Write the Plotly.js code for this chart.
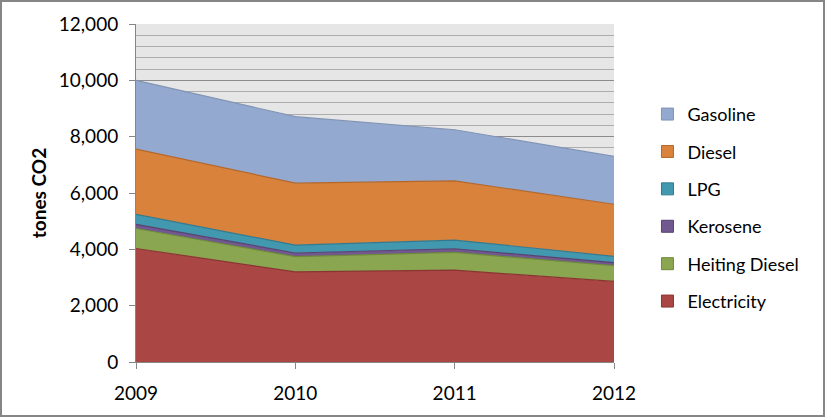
<!DOCTYPE html>
<html>
<head>
<meta charset="utf-8">
<script src="https://cdn.plot.ly/plotly-3.0.1.min.js"></script>
<style>
  html, body { margin: 0; padding: 0; background: #fff; }
  #wrap { position: relative; width: 825px; height: 417px; }
  #chart { position: absolute; left: 0; top: 0; width: 825px; height: 417px; }
  #frame { position: absolute; left: 0; top: 0; width: 825px; height: 417px; box-sizing: border-box; border: 2px solid #868686; pointer-events: none; }
</style>
</head>
<body>
<div id="wrap"><div id="chart"></div><div id="frame"></div></div>
<script>
// ---- data ----
const years = [2009, 2010, 2011, 2012];
const electricity   = [4030, 3200, 3260, 2860];
const heatingDiesel = [710, 540, 630, 560];
const kerosene      = [150, 130, 130, 110];
const lpg           = [350, 280, 310, 220];
const diesel        = [2320, 2200, 2100, 1850];
const gasoline      = [2440, 2360, 1815, 1700];
const seriesNames   = ["Electricity", "Heiting Diesel", "Kerosene", "LPG", "Diesel", "Gasoline"];
const yTickVals     = [0, 2000, 4000, 6000, 8000, 10000, 12000];

// ---- styling ----
const fills = ["#AA4643", "#8BA650", "#71588F", "#4198AF", "#D9823C", "#93A9CF"];
const edges = ["#8A3533", "#6E8A3A", "#574270", "#337A8E", "#B5672A", "#8294B5"];
const seriesValues = [electricity, heatingDiesel, kerosene, lpg, diesel, gasoline];

const traces = [];
seriesValues.forEach((vals, i) => {
  traces.push({
    type: "scatter", mode: "lines", x: years, y: vals,
    stackgroup: "one", name: seriesNames[i],
    fillcolor: fills[i], line: {color: edges[i], width: 1.2},
    showlegend: false, hoverinfo: "skip"
  });
});
// legend entries (squares), Gasoline first
for (let i = seriesNames.length - 1; i >= 0; i--) {
  traces.push({
    type: "scatter", mode: "markers", x: [null], y: [null],
    name: seriesNames[i], legendgroup: "g" + i,
    marker: {symbol: "square", size: 12, color: fills[i], line: {color: edges[i], width: 1}},
    hoverinfo: "skip"
  });
}

const font = "Lato, 'Open Sans', sans-serif";
const layout = {
  width: 825, height: 417,
  margin: {l: 136, r: 211, t: 24, b: 55, pad: 0, autoexpand: false},
  paper_bgcolor: "#ffffff",
  plot_bgcolor: "#E6E6E6",
  font: {family: font, size: 18, color: "#000"},
  showlegend: true,
  legend: {
    x: 1.07, xanchor: "left", y: 0.456, yanchor: "middle",
    traceorder: "grouped", tracegroupgap: 11,
    font: {family: font, size: 18, color: "#000"},
    bgcolor: "rgba(0,0,0,0)", itemwidth: 30
  },
  xaxis: {
    range: [2009, 2012], tickvals: years, ticktext: years.map(String),
    showgrid: false, zeroline: false,
    showline: true, linecolor: "#868686", linewidth: 1,
    ticks: "outside", ticklen: 6, tickcolor: "#868686",
    tickfont: {family: font, size: 19, color: "#000"},
    ticklabelstandoff: 8
  },
  yaxis: {
    range: [0, 12000], tickvals: yTickVals, tickformat: ",d",
    showgrid: true, gridcolor: "#8C8C8C", gridwidth: 1,
    minor: {dtick: 400, showgrid: true, gridcolor: "#ADADAD", gridwidth: 1, ticks: ""},
    zeroline: false,
    showline: true, linecolor: "#868686", linewidth: 1,
    ticks: "outside", ticklen: 6, tickcolor: "#868686",
    tickfont: {family: font, size: 19, color: "#000"},
    ticklabelstandoff: 7,
    title: {text: "<b>tones CO2</b>", font: {family: font, size: 19, color: "#000"}, standoff: 7}
  }
};

Plotly.newPlot("chart", traces, layout, {staticPlot: true, displayModeBar: false});
</script>
</body>
</html>
